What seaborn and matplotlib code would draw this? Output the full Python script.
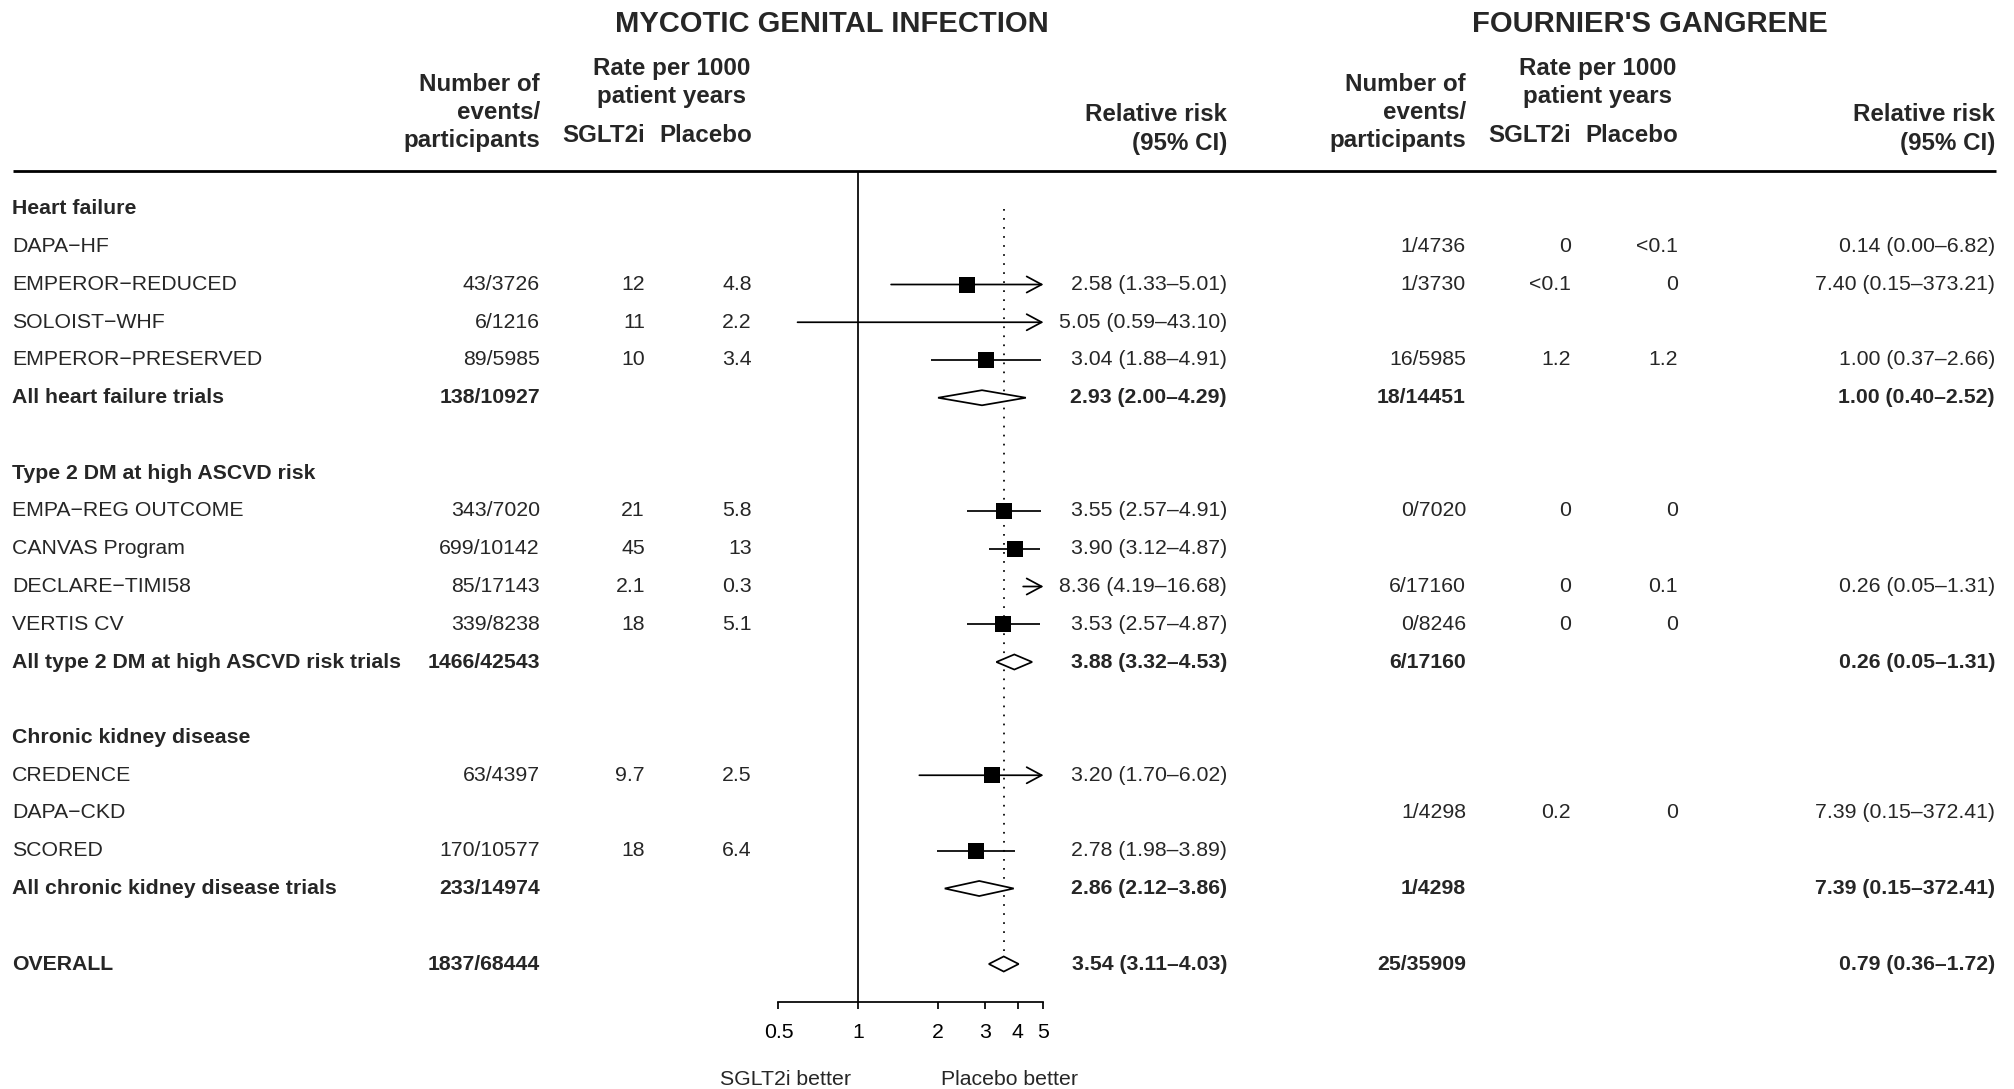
import numpy as np
import pandas as pd
import matplotlib
matplotlib.use("Agg")
import matplotlib.pyplot as plt
import seaborn as sns

# ---------------------------------------------------------------- data
row_labels = [
    "Heart failure", "DAPA−HF", "EMPEROR−REDUCED", "SOLOIST−WHF", "EMPEROR−PRESERVED",
    "All heart failure trials", "",
    "Type 2 DM at high ASCVD risk", "EMPA−REG OUTCOME", "CANVAS Program", "DECLARE−TIMI58",
    "VERTIS CV", "All type 2 DM at high ASCVD risk trials", "",
    "Chronic kidney disease", "CREDENCE", "DAPA−CKD", "SCORED",
    "All chronic kidney disease trials", "", "OVERALL",
]
row_kind = [
    "group", "trial", "trial", "trial", "trial", "summary", "blank",
    "group", "trial", "trial", "trial", "trial", "summary", "blank",
    "group", "trial", "trial", "trial", "summary", "blank", "summary",
]

# Mycotic genital infection
mgi_events = [None, None, "43/3726", "6/1216", "89/5985", "138/10927", None,
              None, "343/7020", "699/10142", "85/17143", "339/8238", "1466/42543", None,
              None, "63/4397", None, "170/10577", "233/14974", None, "1837/68444"]
mgi_rate_sglt2 = [None, None, "12", "11", "10", None, None,
                  None, "21", "45", "2.1", "18", None, None,
                  None, "9.7", None, "18", None, None, None]
mgi_rate_placebo = [None, None, "4.8", "2.2", "3.4", None, None,
                    None, "5.8", "13", "0.3", "5.1", None, None,
                    None, "2.5", None, "6.4", None, None, None]
nan = np.nan
mgi_rr = [nan, nan, 2.58, 5.05, 3.04, 2.93, nan,
          nan, 3.55, 3.90, 8.36, 3.53, 3.88, nan,
          nan, 3.20, nan, 2.78, 2.86, nan, 3.54]
mgi_lo = [nan, nan, 1.33, 0.59, 1.88, 2.00, nan,
          nan, 2.57, 3.12, 4.19, 2.57, 3.32, nan,
          nan, 1.70, nan, 1.98, 2.12, nan, 3.11]
mgi_hi = [nan, nan, 5.01, 43.10, 4.91, 4.29, nan,
          nan, 4.91, 4.87, 16.68, 4.87, 4.53, nan,
          nan, 6.02, nan, 3.89, 3.86, nan, 4.03]

# Fournier's gangrene
fg_events = [None, "1/4736", "1/3730", None, "16/5985", "18/14451", None,
             None, "0/7020", None, "6/17160", "0/8246", "6/17160", None,
             None, None, "1/4298", None, "1/4298", None, "25/35909"]
fg_rate_sglt2 = [None, "0", "<0.1", None, "1.2", None, None,
                 None, "0", None, "0", "0", None, None,
                 None, None, "0.2", None, None, None, None]
fg_rate_placebo = [None, "<0.1", "0", None, "1.2", None, None,
                   None, "0", None, "0.1", "0", None, None,
                   None, None, "0", None, None, None, None]
fg_rr = [nan, 0.14, 7.40, nan, 1.00, 1.00, nan,
         nan, nan, nan, 0.26, nan, 0.26, nan,
         nan, nan, 7.39, nan, 7.39, nan, 0.79]
fg_lo = [nan, 0.00, 0.15, nan, 0.37, 0.40, nan,
         nan, nan, nan, 0.05, nan, 0.05, nan,
         nan, nan, 0.15, nan, 0.15, nan, 0.36]
fg_hi = [nan, 6.82, 373.21, nan, 2.66, 2.52, nan,
         nan, nan, nan, 1.31, nan, 1.31, nan,
         nan, nan, 372.41, nan, 372.41, nan, 1.72]

axis_ticks = [0.5, 1, 2, 3, 4, 5]
axis_ticklabels = ["0.5", "1", "2", "3", "4", "5"]

# ---------------------------------------------------------------- style
sns.set_theme(style="white")
plt.rcParams["font.family"] = ["Liberation Sans", "DejaVu Sans"]
plt.rcParams["axes.unicode_minus"] = False

W, H, DPI = 2015, 1089, 100
Y0, DY = 209.0, 37.75          # pixel row of the first line, row pitch
TXT_DY = 2.5                   # small downward nudge for header text (px)


def px2row(p):
    return (p - Y0) / DY


BODY, HEAD, TITLE = 15.3, 17.4, 21
LW = 1.25

fig = plt.figure(figsize=(W / DPI, H / DPI), dpi=DPI)

# text layer: x in pixels, y in table rows
tab = fig.add_axes([0, 0, 1, 1])
tab.set_xlim(0, W)
tab.set_ylim(px2row(H), px2row(0))
tab.axis("off")

# forest panel: log scale from 0.5 to 5, rows -1 .. 21
x_left, x_right = 778.5, 1043.5
r_top, r_bot = -1, 21
p_top, p_bot = Y0 + DY * r_top, Y0 + DY * r_bot
ax = fig.add_axes([x_left / W, 1 - p_bot / H, (x_right - x_left) / W, (p_bot - p_top) / H])
ax.set_xscale("log")
ax.set_xlim(0.5, 5)
ax.set_ylim(r_bot, r_top)
ax.set_facecolor("none")

# ---------------------------------------------------------------- header
tab.plot([13, 1996], [px2row(171), px2row(171)], color="black", lw=2.0, solid_capstyle="butt")

tab.text(832, px2row(22 + TXT_DY), "MYCOTIC GENITAL INFECTION", ha="center", va="center",
         fontsize=TITLE, weight="bold")
tab.text(1650, px2row(22 + TXT_DY), "FOURNIER'S GANGRENE", ha="center", va="center",
         fontsize=TITLE, weight="bold")

panels = [
    dict(ev=540, s=645, p=752, rr=1227, rate_mid=672),
    dict(ev=1466, s=1571, p=1678, rr=1995, rate_mid=1598),
]


def head(x, y, txt, ha):
    tab.text(x, px2row(y + TXT_DY), txt, ha=ha, va="center", fontsize=HEAD, weight="bold")


for c in panels:
    for txt, y in [("Number of", 82), ("events/", 110), ("participants", 138)]:
        head(c["ev"], y, txt, "right")
    head(c["rate_mid"], 66, "Rate per 1000", "center")
    head(c["rate_mid"], 94, "patient years", "center")
    head(c["s"], 133, "SGLT2i", "right")
    head(c["p"], 133, "Placebo", "right")
    head(c["rr"], 112, "Relative risk", "right")
    head(c["rr"], 141, "(95% CI)", "right")


def rr_text(r, lo, hi):
    return f"{r:.2f} ({lo:.2f}–{hi:.2f})"


# ---------------------------------------------------------------- table rows
for i, (lab, kind) in enumerate(zip(row_labels, row_kind)):
    bold_lab = "bold" if kind in ("group", "summary") else "normal"
    bold_val = "bold" if kind == "summary" else "normal"
    if lab:
        tab.text(12, i, lab, ha="left", va="center", fontsize=BODY, weight=bold_lab)
    cols = [
        (panels[0], mgi_events[i], mgi_rate_sglt2[i], mgi_rate_placebo[i], mgi_rr[i], mgi_lo[i], mgi_hi[i]),
        (panels[1], fg_events[i], fg_rate_sglt2[i], fg_rate_placebo[i], fg_rr[i], fg_lo[i], fg_hi[i]),
    ]
    for c, ev, rs, rp, r, lo, hi in cols:
        if ev:
            tab.text(c["ev"], i, ev, ha="right", va="center", fontsize=BODY, weight=bold_val)
        if rs:
            tab.text(c["s"], i, rs, ha="right", va="center", fontsize=BODY)
        if rp:
            tab.text(c["p"], i, rp, ha="right", va="center", fontsize=BODY)
        if not np.isnan(r):
            tab.text(c["rr"], i, rr_text(r, lo, hi), ha="right", va="center",
                     fontsize=BODY, weight=bold_val)

# ---------------------------------------------------------------- forest marks
xmin, xmax = ax.get_xlim()
df = pd.DataFrame({"row": np.arange(len(row_labels)), "kind": row_kind,
                   "rr": mgi_rr, "lo": mgi_lo, "hi": mgi_hi})
trials = df[(df["kind"] == "trial") & df["rr"].notna()]
summaries = df[(df["kind"] == "summary") & df["rr"].notna()]

ax.axvline(1, color="black", lw=LW, zorder=2)

overall = df.iloc[-1]
half_h = 0.2
ax.vlines(overall["rr"], 0, overall["row"] - half_h, colors="black", lw=LW,
          linestyles=(0, (1, 4.2)), zorder=1)

for _, t in trials.iterrows():
    lo = max(t["lo"], xmin)
    if t["hi"] > xmax:
        ax.annotate("", xy=(xmax, t["row"]), xytext=(lo, t["row"]),
                    xycoords="data", textcoords="data", annotation_clip=False,
                    arrowprops=dict(arrowstyle="->,head_length=1.08,head_width=0.58",
                                    mutation_scale=10, lw=LW, color="black",
                                    shrinkA=0, shrinkB=0, clip_on=False))
    else:
        ax.hlines(t["row"], lo, t["hi"], colors="black", lw=LW, zorder=3)

sq = trials[trials["rr"] <= xmax]
sns.scatterplot(data=sq, x="rr", y="row", marker="s", s=117, color="black",
                linewidth=0, legend=False, ax=ax, zorder=4, clip_on=False)

for _, s in summaries.iterrows():
    ax.fill([s["lo"], s["rr"], s["hi"], s["rr"]],
            [s["row"], s["row"] - half_h, s["row"], s["row"] + half_h],
            facecolor="white", edgecolor="black", lw=LW, zorder=4)

# ---------------------------------------------------------------- axis
for side in ("top", "left", "right"):
    ax.spines[side].set_visible(False)
ax.spines["bottom"].set_linewidth(LW)
ax.spines["bottom"].set_color("black")
ax.set_xticks(axis_ticks)
ax.set_xticklabels(axis_ticklabels)
ax.xaxis.set_minor_locator(matplotlib.ticker.NullLocator())
ax.tick_params(axis="x", bottom=True, direction="out", length=5, width=LW,
               labelsize=BODY, pad=10.5, color="black", labelcolor="black")
ax.set_yticks([])
ax.set_xlabel("")
ax.set_ylabel("")
ax.grid(False)

tab.text(786, px2row(1077 + TXT_DY), "SGLT2i better", ha="center", va="center", fontsize=BODY)
tab.text(1010, px2row(1077 + TXT_DY), "Placebo better", ha="center", va="center", fontsize=BODY)

fig.savefig("out.png", dpi=DPI, facecolor="white")
